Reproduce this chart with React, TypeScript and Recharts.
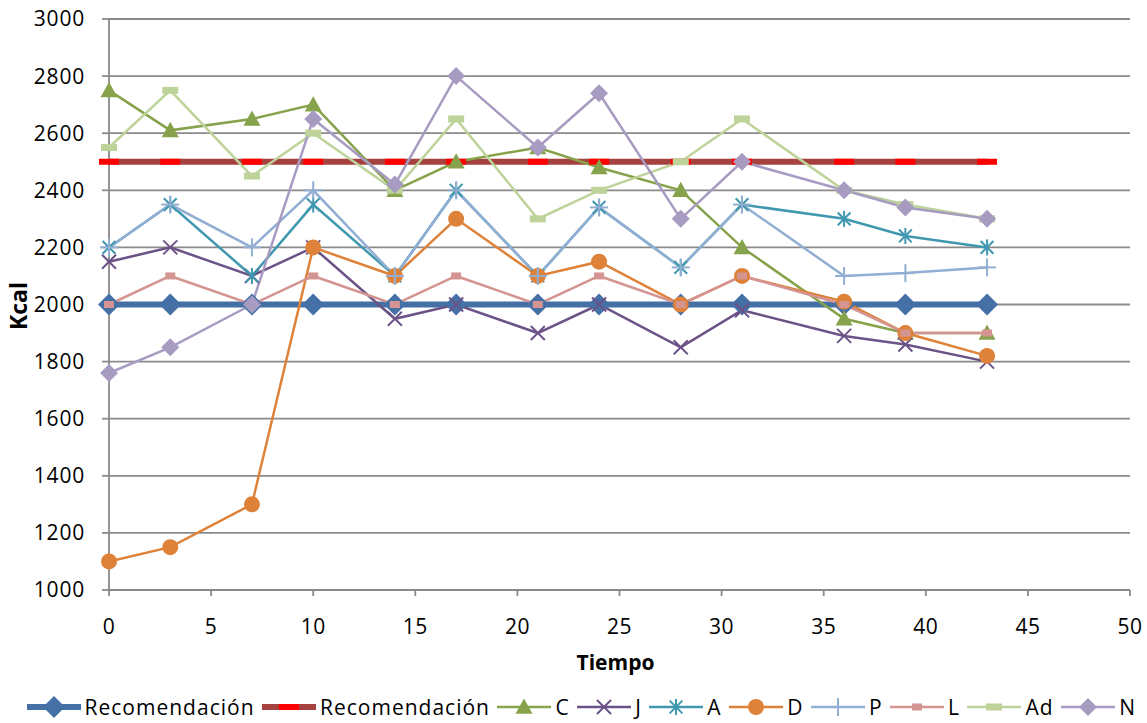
import React from 'react';
import { LineChart, Line, XAxis, YAxis, CartesianGrid, Legend, Label } from 'recharts';

// Time points (days) and daily energy intake per subject, in kcal
const tiempo = [0, 3, 7, 10, 14, 17, 21, 24, 28, 31, 36, 39, 43];
const recomendacionMin = [2000, 2000, 2000, 2000, 2000, 2000, 2000, 2000, 2000, 2000, 2000, 2000, 2000];
const recomendacionMax = [2500, 2500, 2500, 2500, 2500, 2500, 2500, 2500, 2500, 2500, 2500, 2500, 2500];
const serieC = [2750, 2610, 2650, 2700, 2400, 2500, 2550, 2480, 2400, 2200, 1950, 1900, 1900];
const serieJ = [2150, 2200, 2100, 2200, 1950, 2000, 1900, 2000, 1850, 1980, 1890, 1860, 1800];
const serieA = [2200, 2350, 2100, 2350, 2100, 2400, 2100, 2340, 2130, 2350, 2300, 2240, 2200];
const serieD = [1100, 1150, 1300, 2200, 2100, 2300, 2100, 2150, 2000, 2100, 2010, 1900, 1820];
const serieP = [2200, 2350, 2200, 2400, 2100, 2400, 2100, 2340, 2130, 2350, 2100, 2110, 2130];
const serieL = [2000, 2100, 2000, 2100, 2000, 2100, 2000, 2100, 2000, 2100, 2000, 1900, 1900];
const serieAd = [2550, 2750, 2450, 2600, 2400, 2650, 2300, 2400, 2500, 2650, 2400, 2350, 2300];
const serieN = [1760, 1850, 2000, 2650, 2420, 2800, 2550, 2740, 2300, 2500, 2400, 2340, 2300];

const xTicks = [0, 5, 10, 15, 20, 25, 30, 35, 40, 45, 50];
const yTicks = [1000, 1200, 1400, 1600, 1800, 2000, 2200, 2400, 2600, 2800, 3000];

const FONT = '"Open Sans", "DejaVu Sans", sans-serif';
const GRID = '#8a8a8a';

type Shape = 'diamond' | 'bar' | 'triangle' | 'cross' | 'star' | 'circle' | 'plus' | 'dash';

interface SeriesDef {
  key: string;
  name: string;
  values: number[];
  stroke: string;
  width: number;
  shape: Shape;
  size: number;
  marker: string;
}

const series: SeriesDef[] = [
  { key: 'rec1', name: 'Recomendación', values: recomendacionMin, stroke: '#4470A6', width: 6, shape: 'diamond', size: 11, marker: '#4470A6' },
  { key: 'rec2', name: 'Recomendación', values: recomendacionMax, stroke: '#A5413E', width: 6, shape: 'bar', size: 10, marker: '#FF0000' },
  { key: 'C', name: 'C', values: serieC, stroke: '#86A24A', width: 2.5, shape: 'triangle', size: 8.5, marker: '#86A24A' },
  { key: 'J', name: 'J', values: serieJ, stroke: '#6B5287', width: 2.5, shape: 'cross', size: 7, marker: '#6B5287' },
  { key: 'A', name: 'A', values: serieA, stroke: '#3F98AF', width: 2.5, shape: 'star', size: 8, marker: '#3F98AF' },
  { key: 'D', name: 'D', values: serieD, stroke: '#DE8239', width: 2.5, shape: 'circle', size: 8, marker: '#DE8239' },
  { key: 'P', name: 'P', values: serieP, stroke: '#91AED3', width: 2.5, shape: 'plus', size: 9, marker: '#91AED3' },
  { key: 'L', name: 'L', values: serieL, stroke: '#D49491', width: 2.5, shape: 'dash', size: 5, marker: '#D49491' },
  { key: 'Ad', name: 'Ad', values: serieAd, stroke: '#BDD399', width: 2.5, shape: 'dash', size: 8, marker: '#BDD399' },
  { key: 'N', name: 'N', values: serieN, stroke: '#A89BC2', width: 2.5, shape: 'diamond', size: 9, marker: '#A89BC2' },
];

const data = tiempo.map((t, i) => {
  const row: Record<string, number> = { t };
  series.forEach((s) => {
    row[s.key] = s.values[i];
  });
  return row;
});

function markerElement(shape: Shape, cx: number, cy: number, size: number, color: string, barHeight = 6) {
  const s = size;
  switch (shape) {
    case 'diamond':
      return <polygon points={`${cx},${cy - s} ${cx + s},${cy} ${cx},${cy + s} ${cx - s},${cy}`} fill={color} />;
    case 'bar':
      return <rect x={cx - s} y={cy - barHeight / 2} width={2 * s} height={barHeight} fill={color} />;
    case 'triangle':
      return <polygon points={`${cx},${cy - s} ${cx + s},${cy + s * 0.8} ${cx - s},${cy + s * 0.8}`} fill={color} />;
    case 'cross':
      return (
        <g stroke={color} strokeWidth={2}>
          <line x1={cx - s} y1={cy - s} x2={cx + s} y2={cy + s} />
          <line x1={cx - s} y1={cy + s} x2={cx + s} y2={cy - s} />
        </g>
      );
    case 'star':
      return (
        <g stroke={color} strokeWidth={2}>
          <line x1={cx - s * 0.8} y1={cy - s * 0.8} x2={cx + s * 0.8} y2={cy + s * 0.8} />
          <line x1={cx - s * 0.8} y1={cy + s * 0.8} x2={cx + s * 0.8} y2={cy - s * 0.8} />
          <line x1={cx} y1={cy - s} x2={cx} y2={cy + s} />
        </g>
      );
    case 'circle':
      return <circle cx={cx} cy={cy} r={s} fill={color} />;
    case 'plus':
      return (
        <g stroke={color} strokeWidth={2}>
          <line x1={cx - s} y1={cy} x2={cx + s} y2={cy} />
          <line x1={cx} y1={cy - s} x2={cx} y2={cy + s} />
        </g>
      );
    case 'dash':
      return <rect x={cx - s} y={cy - 3.5} width={2 * s} height={7} fill={color} />;
    default:
      return null;
  }
}

function makeDot(def: SeriesDef) {
  return (props: any) => {
    const { cx, cy, index } = props;
    if (cx == null || cy == null) return <g key={`${def.key}-${index}`} />;
    return (
      <g key={`${def.key}-${index}`}>
        {markerElement(def.shape, cx, cy, def.size, def.marker, def.width)}
      </g>
    );
  };
}

function LegendContent() {
  return (
    <div
      style={{
        display: 'flex',
        justifyContent: 'center',
        alignItems: 'center',
        height: 28,
        paddingLeft: 40,
        fontFamily: FONT,
        fontSize: 21,
        letterSpacing: 1,
        color: '#000',
        whiteSpace: 'nowrap',
      }}
    >
      {series.map((s) => (
        <div key={s.key} style={{ display: 'flex', alignItems: 'center', marginRight: 7.5 }}>
          <svg width={54} height={24} style={{ display: 'block' }}>
            <line x1={0} y1={12} x2={54} y2={12} stroke={s.stroke} strokeWidth={s.width} />
            {markerElement(s.shape, 27, 12, s.size, s.marker, s.width)}
          </svg>
          <span style={{ marginLeft: 4 }}>{s.name}</span>
        </div>
      ))}
    </div>
  );
}

export default function App() {
  return (
    <div style={{ position: 'absolute', left: 0, top: 0, width: 1147, height: 723, background: '#fff' }}>
      <LineChart
        width={1147}
        height={723}
        data={data}
        margin={{ top: 19, right: 17, bottom: 2, left: 0 }}
      >
        <CartesianGrid vertical={false} stroke={GRID} strokeWidth={1.8} />
        <XAxis
          type="number"
          dataKey="t"
          domain={[0, 50]}
          ticks={xTicks}
          interval={0}
          height={103}
          tickSize={6}
          tickMargin={23}
          axisLine={{ stroke: GRID, strokeWidth: 1.8 }}
          tickLine={{ stroke: GRID, strokeWidth: 1.8 }}
          tick={{ fill: '#000', fontSize: 21, fontFamily: FONT, letterSpacing: 0.5 }}
        >
          <Label
            content={(props: any) => {
              const vb = props.viewBox;
              return (
                <text
                  x={vb.x + vb.width / 2 - 4}
                  y={vb.y + 80}
                  textAnchor="middle"
                  fontFamily={FONT}
                  fontSize={21}
                  fontWeight="bold"
                  fill="#000"
                >
                  Tiempo
                </text>
              );
            }}
          />
        </XAxis>
        <YAxis
          type="number"
          domain={[1000, 3000]}
          ticks={yTicks}
          interval={0}
          width={109}
          tickSize={7}
          tickMargin={17}
          axisLine={{ stroke: GRID, strokeWidth: 1.8 }}
          tickLine={{ stroke: GRID, strokeWidth: 1.8 }}
          tick={{ fill: '#000', fontSize: 21, fontFamily: FONT, letterSpacing: 0.8 }}
        >
          <Label
            content={() => (
              <text
                x={18}
                y={306}
                transform="rotate(-90, 18, 306)"
                textAnchor="middle"
                dominantBaseline="central"
                fontFamily={FONT}
                fontSize={23}
                fontWeight="bold"
                fill="#000"
              >
                Kcal
              </text>
            )}
          />
        </YAxis>
        <Legend verticalAlign="bottom" align="center" height={28} content={() => <LegendContent />} />
        {series.map((s) => (
          <Line
            key={s.key}
            type="linear"
            dataKey={s.key}
            name={s.name}
            stroke={s.stroke}
            strokeWidth={s.width}
            dot={makeDot(s)}
            activeDot={false}
            isAnimationActive={false}
          />
        ))}
      </LineChart>
    </div>
  );
}
